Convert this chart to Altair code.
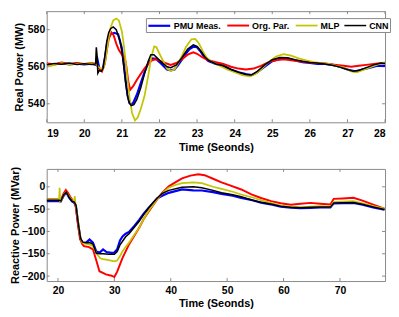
import altair as alt
import pandas as pd

series = ["PMU Meas.", "Org. Par.", "MLP", "CNN"]
colors = ["#0000FF", "#FF0000", "#C4C400", "#000000"]
widths = [2.2, 1.5, 2.0, 1.8]
GRAY = "#8a8a8a"
FONT = "Liberation Sans"

# ---------------- top panel: Real Power (MW) vs time ----------------
pmu_t_top = [19.0, 19.2, 19.4, 19.6, 19.8, 20.0, 20.2, 20.3, 20.35, 20.4, 20.45, 20.5, 20.55, 20.6, 20.65, 20.7, 20.8, 20.9,
             21.0, 21.05, 21.1, 21.15, 21.2, 21.25, 21.3, 21.4, 21.5, 21.6, 21.7, 21.8, 21.9, 22.0, 22.1, 22.2, 22.3, 22.4,
             22.5, 22.6, 22.7, 22.8, 22.9, 23.0, 23.1, 23.2, 23.3, 23.5, 23.7, 23.9, 24.1, 24.3, 24.45, 24.6, 24.8, 25.0,
             25.2, 25.4, 25.6, 25.8, 26.0, 26.2, 26.4, 26.6, 26.8, 27.0, 27.2, 27.4, 27.6, 27.8, 28.0]
pmu_v_top = [561.5, 561.2, 561.9, 561.3, 561.7, 561.2, 561.6, 561.0, 564.0, 559.0, 558.0, 559.5, 565.0, 572.0, 576.0, 577.5, 578.3, 577.5,
             570.0, 562.0, 553.0, 545.0, 540.5, 539.5, 540.5, 545.0, 551.0, 557.0, 562.0, 564.5, 564.3, 562.5, 560.5, 558.5, 558.0, 558.5,
             561.0, 564.0, 567.0, 569.5, 570.8, 570.5, 568.0, 565.0, 563.0, 561.5, 560.5, 558.5, 557.0, 556.0, 555.5, 557.0, 560.0, 563.0,
             564.3, 564.5, 563.5, 562.5, 562.0, 561.5, 561.5, 561.0, 560.0, 558.5, 557.5, 558.5, 559.5, 560.5, 560.5]

org_t_top = [19.0, 19.2, 19.4, 19.6, 19.8, 20.0, 20.2, 20.3, 20.4, 20.47, 20.55, 20.6, 20.65, 20.72, 20.78, 20.85, 20.92, 21.0,
             21.07, 21.12, 21.17, 21.22, 21.3, 21.4, 21.5, 21.6, 21.7, 21.8, 21.9, 22.0, 22.15, 22.3, 22.45, 22.6, 22.75, 22.9,
             23.0, 23.15, 23.3, 23.5, 23.7, 23.9, 24.1, 24.3, 24.5, 24.7, 24.9, 25.1, 25.3, 25.5, 25.7, 25.9, 26.1, 26.3, 26.5,
             26.7, 26.9, 27.1, 27.3, 27.5, 27.7, 27.9, 28.0]
org_v_top = [561.8, 561.3, 562.3, 561.5, 562.0, 561.5, 562.0, 561.5, 559.0, 557.5, 562.0, 569.0, 575.0, 578.5, 577.0, 572.5, 569.0, 566.5,
             565.5, 560.0, 552.0, 547.5, 549.5, 553.0, 556.0, 559.0, 561.5, 563.5, 564.0, 563.3, 562.0, 561.0, 562.0, 564.0, 566.5, 567.8,
             567.0, 565.0, 563.5, 562.5, 561.5, 560.0, 559.0, 558.5, 559.0, 560.5, 562.5, 563.5, 564.0, 563.5, 563.0, 562.5, 562.0, 562.0, 561.5,
             561.0, 560.5, 560.0, 560.5, 561.0, 561.5, 562.0, 561.8]

mlp_t_top = [19.0, 19.1, 19.2, 19.4, 19.6, 19.8, 20.0, 20.2, 20.3, 20.4, 20.5, 20.55, 20.6, 20.65, 20.7, 20.77, 20.85, 20.92, 21.0,
             21.05, 21.1, 21.15, 21.2, 21.27, 21.35, 21.42, 21.5, 21.6, 21.7, 21.78, 21.86, 21.92, 22.0, 22.1, 22.2, 22.3, 22.4,
             22.5, 22.6, 22.7, 22.85, 22.95, 23.05, 23.15, 23.25, 23.4, 23.6, 23.8, 24.0, 24.2, 24.4, 24.55, 24.7, 24.9, 25.1,
             25.3, 25.5, 25.7, 25.9, 26.1, 26.3, 26.5, 26.7, 26.9, 27.1, 27.25, 27.45, 27.65, 27.85, 28.0]
mlp_v_top = [561.3, 560.3, 561.0, 562.0, 561.2, 561.5, 561.5, 561.8, 561.5, 559.5, 558.5, 562.0, 569.0, 576.0, 581.0, 585.0, 586.0, 585.0, 579.0,
             572.0, 563.0, 553.0, 544.0, 535.0, 531.0, 532.5, 537.0, 544.0, 555.0, 565.0, 571.0, 570.5, 567.0, 563.0, 559.0, 557.8, 558.5,
             562.0, 566.0, 570.5, 574.8, 575.0, 572.5, 568.5, 565.0, 562.5, 560.5, 558.5, 557.0, 555.5, 554.8, 556.0, 558.5, 562.5, 565.5,
             566.8, 566.0, 564.5, 563.5, 562.5, 562.0, 561.5, 560.5, 559.5, 557.5, 557.0, 558.5, 560.0, 561.5, 562.5]

cnn_t_top = [19.0, 19.2, 19.4, 19.6, 19.8, 20.0, 20.2, 20.3, 20.32, 20.34, 20.36, 20.4, 20.45, 20.5, 20.55, 20.6, 20.65, 20.7, 20.77,
             20.85, 20.95, 21.0, 21.05, 21.1, 21.15, 21.2, 21.25, 21.32, 21.4, 21.5, 21.6, 21.7, 21.77, 21.85, 21.95, 22.05, 22.2,
             22.3, 22.45, 22.6, 22.75, 22.9, 23.0, 23.1, 23.2, 23.3, 23.5, 23.7, 23.9, 24.1, 24.3, 24.45, 24.6, 24.8, 25.0, 25.2,
             25.4, 25.6, 25.8, 26.0, 26.2, 26.4, 26.6, 26.8, 27.0, 27.15, 27.3, 27.5, 27.7, 27.9, 28.0]
cnn_v_top = [561.0, 561.8, 561.3, 562.0, 561.2, 561.6, 561.2, 561.5, 570.5, 566.0, 556.5, 558.0, 557.5, 559.0, 566.0, 574.0, 578.5, 580.5, 581.5,
             580.0, 574.0, 568.0, 560.0, 551.0, 544.0, 540.5, 539.0, 539.5, 542.5, 548.5, 556.0, 563.0, 566.5, 566.5, 564.5, 562.5, 560.0,
             559.5, 561.0, 565.0, 569.5, 571.8, 571.0, 568.5, 565.5, 563.5, 561.5, 560.5, 558.5, 557.0, 555.8, 555.5, 557.5, 561.0, 563.8, 565.0,
             564.8, 563.8, 563.0, 562.3, 562.0, 561.5, 560.8, 559.8, 558.5, 557.5, 558.0, 559.5, 561.0, 562.0, 561.8]

top_xticks = [19, 20, 21, 22, 23, 24, 25, 26, 27, 28]
top_yticks = [540, 560, 580]

# ---------------- bottom panel: Reactive Power (MVar) vs time ----------------
pmu_t_bot = [18, 20.2, 20.5, 21.0, 21.5, 22.0, 22.5, 22.9, 23.2, 23.6, 24.0, 24.4, 25.0, 25.6, 26.2, 26.8, 27.4, 28.0, 28.6, 29.5,
             30.0, 30.5, 31.0, 31.45, 32.0, 32.6, 33.5, 34.4, 35.2, 36.1, 37.6, 38.5, 39.65, 42.0, 44.0, 45.5, 47.5, 49.0, 51.0,
             52.5, 54.5, 56.0, 58.0, 59.5, 61.3, 63.0, 64.8, 66.5, 68.3, 68.9, 70.5, 72.4, 74.0, 75.9, 77.9]
pmu_v_bot = [-32, -32, -33, -20, -13, -25, -33, -36, -45, -85, -118, -126, -125, -118, -125, -145, -147, -140, -146, -148,
             -147, -140, -120, -111, -105, -101, -88, -74, -60, -47, -26, -20, -13.5, -6, -8, -8.3, -12, -15.7, -20,
             -24.7, -30, -35.6, -40, -44.5, -47, -48, -47, -46, -46, -37, -36.5, -36, -40, -46, -51]

org_t_bot = [18, 20.2, 20.3, 20.5, 21.0, 21.4, 21.8, 22.3, 22.9, 23.1, 23.5, 23.9, 24.3, 24.6, 25.5, 26.2, 26.8, 27.35, 28.5, 29.5,
             30.0, 30.5, 31.45, 32.6, 33.5, 34.4, 35.2, 36.1, 37.6, 38.5, 39.65, 40.8, 42.0, 43.5, 44.9, 46.0, 47.5, 49.0, 50.5,
             52.5, 54.3, 56.0, 57.8, 59.5, 61.3, 63.0, 64.8, 66.5, 68.3, 68.9, 70.5, 72.4, 74.0, 75.9, 77.9]
org_v_bot = [-28, -28, -27, -30, -15, -7, -14, -25, -35, -40, -80, -115, -128, -133, -135, -140, -165, -189, -196, -199,
             -202, -190, -159, -129, -110, -92, -72, -55, -28, -13, 1, 10, 19, 25, 28, 26, 18, 10, 3,
             -6, -17, -25, -32, -37, -40, -38, -36, -38, -39.7, -27, -26, -24.7, -31, -40, -49]

mlp_t_bot = [18, 20.2, 20.3, 20.38, 20.6, 21.0, 21.5, 22.0, 22.5, 22.9, 22.98, 23.08, 23.5, 23.9, 24.2, 24.5, 25.0, 25.5, 26.0, 26.5,
             27.0, 27.5, 28.0, 29.0, 30.0, 30.5, 31.0, 31.45, 32.0, 32.6, 33.5, 34.4, 35.2, 36.1, 37.0, 37.6, 38.5, 39.65, 40.8,
             42.0, 44.0, 45.5, 47.5, 49.0, 51.0, 52.5, 54.5, 56.0, 58.0, 59.5, 61.3, 63.0, 64.8, 66.5, 68.3, 68.9, 70.5, 72.4,
             74.0, 75.9, 77.9]
mlp_v_bot = [-28, -28, -2, -33, -30, -18, -12, -22, -30, -33, -21, -36, -70, -108, -122, -127, -128, -129, -131, -140,
             -152, -160, -162, -164, -167, -165, -155, -144, -135, -125, -108, -92, -72, -53, -38, -27, -14, -2, 4,
             8, 10, 8, 0, -4.5, -11, -17.3, -24, -30, -37, -42, -44.5, -45.7, -44.5, -43.5, -44.5, -34.5, -33, -32.3,
             -37, -43, -49]

cnn_t_bot = [18, 20.2, 20.5, 21.0, 21.5, 22.0, 22.5, 22.9, 23.2, 23.6, 24.0, 24.4, 25.0, 25.6, 26.2, 26.8, 27.4, 28.0, 29.0, 30.0,
             30.5, 31.0, 31.45, 32.0, 32.6, 33.5, 34.4, 35.2, 36.1, 37.6, 38.5, 39.65, 42.0, 44.0, 45.5, 47.5, 49.0, 51.0, 52.5,
             54.5, 56.0, 58.0, 59.5, 61.3, 63.0, 64.8, 66.5, 68.3, 68.9, 70.5, 72.4, 74.0, 75.9, 77.9]
cnn_v_bot = [-30, -30, -32, -18, -12, -24, -32, -34, -42, -82, -115, -124, -125.5, -125, -128, -149, -150, -150, -151, -151,
             -145, -130, -122, -112, -105, -91, -77, -62, -47, -25, -15, -8, -1, 0, -2, -8, -13.5, -18, -22.4,
             -30, -34.5, -39, -43.5, -46, -47, -46, -45, -45.5, -36, -35.5, -35, -39, -45, -51]

bot_xticks = [20, 30, 40, 50, 60, 70]
bot_yticks = [-200, -150, -100, -50, 0]


def frame(ts, vs):
    rows = []
    for i, name in enumerate(series):
        for t, v in zip(ts[i], vs[i]):
            rows.append({"t": t, "v": v, "series": name, "order": i})
    return pd.DataFrame(rows)


top_df = frame([pmu_t_top, org_t_top, mlp_t_top, cnn_t_top], [pmu_v_top, org_v_top, mlp_v_top, cnn_v_top])
bot_df = frame([pmu_t_bot, org_t_bot, mlp_t_bot, cnn_t_bot], [pmu_v_bot, org_v_bot, mlp_v_bot, cnn_v_bot])

W = 341


def panel(df, xdom, ydom, xticks, yticks, ytitle, h, legend, lab_pad_x, title_pad_x, title_pad_y):
    X = alt.X("t:Q", scale=alt.Scale(domain=xdom, nice=False, zero=False),
              axis=alt.Axis(values=xticks, title="Time (Seonds)", labelPadding=lab_pad_x,
                            titlePadding=title_pad_x, format="d", minExtent=0))
    Y = alt.Y("v:Q", scale=alt.Scale(domain=ydom, nice=False, zero=False),
              axis=alt.Axis(values=yticks, title=ytitle, labelPadding=2, titlePadding=title_pad_y,
                            format="d", minExtent=0))
    color = alt.Color("series:N", scale=alt.Scale(domain=series, range=colors), legend=legend)
    lines = alt.Chart(df).mark_line(clip=True).encode(
        x=X, y=Y, color=color,
        strokeWidth=alt.StrokeWidth("series:N", scale=alt.Scale(domain=series, range=widths), legend=None),
        order=alt.Order("t:Q"),
    )
    xdf = pd.DataFrame({"t": xticks})
    ydf = pd.DataFrame({"v": yticks})
    tb = alt.Chart(xdf).mark_rule(color=GRAY).encode(x=X, y=alt.value(h), y2=alt.value(h - 3))
    tt = alt.Chart(xdf).mark_rule(color=GRAY).encode(x=X, y=alt.value(0), y2=alt.value(3))
    tl = alt.Chart(ydf).mark_rule(color=GRAY).encode(y=Y, x=alt.value(0), x2=alt.value(3))
    tr = alt.Chart(ydf).mark_rule(color=GRAY).encode(y=Y, x=alt.value(W), x2=alt.value(W - 3))
    return alt.layer(tb, tt, tl, tr, lines).properties(width=W, height=h)


top_legend = alt.Legend(orient="none", legendX=100, legendY=7, direction="horizontal", title=None,
                        symbolType="M-1,0H3.4", symbolStrokeWidth=2.2, symbolSize=100,
                        symbolFillColor="transparent",
                        labelFont=FONT, labelFontSize=9, labelFontWeight="bold", labelColor="black",
                        padding=1, strokeColor=GRAY, fillColor="white", columnPadding=2,
                        labelOffset=14, labelLimit=200)

top = panel(top_df, [19, 28], [530, 590], top_xticks, top_yticks, "Real Power (MW)", 112, top_legend, 6, 3, 3)
bottom = panel(bot_df, [18, 78], [-211, 40], bot_xticks, bot_yticks, "Reactive Power (MVar)", 113, None, 5, 1, 1)

chart = alt.vconcat(top, bottom, spacing=47, bounds="flush").resolve_scale(
    color="independent", strokeWidth="independent"
).resolve_legend(color="independent").properties(
    padding={"left": 0, "top": 1, "right": 0, "bottom": 0}
).configure_axis(
    labelFont=FONT, labelFontWeight="bold", labelFontSize=10.5, labelColor="black",
    titleFont=FONT, titleFontWeight="bold", titleFontSize=11, titleColor="black",
    domain=False, ticks=False, grid=False,
).configure_view(stroke=GRAY, strokeWidth=1)

chart.save("out.html", embed_options={"renderer": "svg", "actions": False})
